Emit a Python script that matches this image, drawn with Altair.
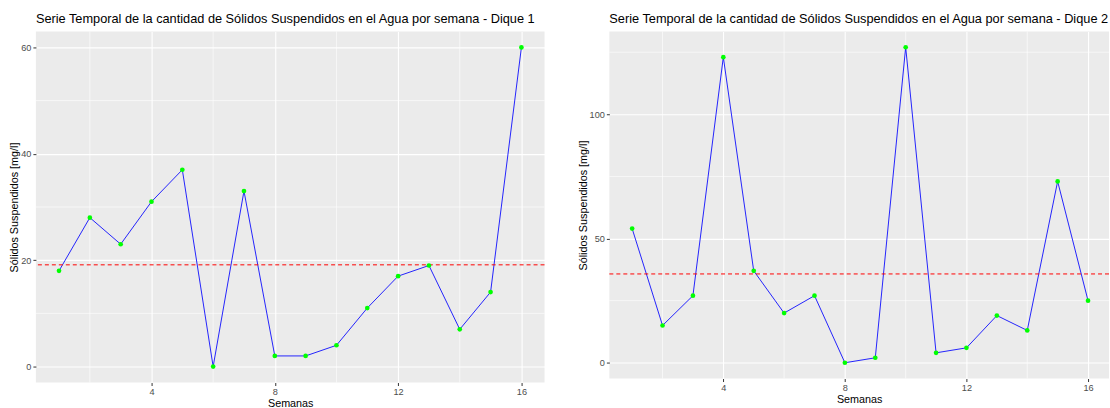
import altair as alt
import pandas as pd

semanas = list(range(1, 17))
dique1 = [18, 28, 23, 31, 37, 0, 33, 2, 2, 4, 11, 17, 19, 7, 14, 60]
dique2 = [54, 15, 27, 123, 37, 20, 27, 0, 2, 127, 4, 6, 19, 13, 73, 25]
titulo1 = "Serie Temporal de la cantidad de Sólidos Suspendidos en el Agua por semana - Dique 1"
titulo2 = "Serie Temporal de la cantidad de Sólidos Suspendidos en el Agua por semana - Dique 2"
x_major = [4, 8, 12, 16]
x_minor = [2, 6, 10, 14]
y1_major = [0, 20, 40, 60]
y1_minor = [10, 30, 50]
y2_major = [0, 50, 100]
y2_minor = [25, 75, 125]

FONT = "Liberation Sans"


def panel(vals, title, ymaj, ymin, xdom, ydom, w, h):
    df = pd.DataFrame({"Semana": semanas, "Valor": vals})
    mean = sum(vals) / len(vals)
    xscale = alt.Scale(domain=xdom, nice=False, zero=False)
    yscale = alt.Scale(domain=ydom, nice=False, zero=False)
    xaxis = alt.Axis(values=x_major, title="Semanas", grid=True, titlePadding=1)
    yaxis = alt.Axis(values=ymaj, title="Sólidos Suspendidos  [mg/l]", grid=True,
                     titlePadding=1)

    minor_x = alt.Chart(pd.DataFrame({"x": x_minor})).mark_rule(
        color="white", strokeWidth=0.6
    ).encode(x=alt.X("x:Q", scale=xscale, axis=xaxis))
    minor_y = alt.Chart(pd.DataFrame({"y": ymin})).mark_rule(
        color="white", strokeWidth=0.6
    ).encode(y=alt.Y("y:Q", scale=yscale, axis=yaxis))

    base = alt.Chart(df).encode(
        x=alt.X("Semana:Q", scale=xscale, axis=xaxis),
        y=alt.Y("Valor:Q", scale=yscale, axis=yaxis),
    )
    line = base.mark_line(color="#0000FF", strokeWidth=1, opacity=0.85)
    pts = base.mark_circle(color="#00FF00", size=22, opacity=1)
    mean_rule = alt.Chart(pd.DataFrame({"m": [mean]})).mark_rule(
        color="#FF0000", strokeDash=[4, 3], strokeWidth=1
    ).encode(y=alt.Y("m:Q", scale=yscale, axis=yaxis))

    return alt.layer(minor_x, minor_y, line, mean_rule, pts).properties(
        width=w, height=h,
        title=alt.TitleParams(title, anchor="start", frame="group", fontSize=12.8,
                              font=FONT, fontWeight="normal", color="black", offset=5),
    )


left = panel(dique1, titulo1, y1_major, y1_minor, [0.25, 16.75], [-3, 63], 510, 352)
right = panel(dique2, titulo2, y2_major, y2_minor, [0.25, 16.69], [-6.35, 133.35], 501, 348)

chart = alt.hconcat(left, right, spacing=31).properties(
    padding={"left": 8, "top": 12, "right": 0, "bottom": 0},
    background="white",
).configure_view(
    fill="#EBEBEB", stroke=None
).configure_axis(
    domain=False,
    gridColor="white",
    gridWidth=1.1,
    tickColor="#333333",
    tickSize=3,
    labelColor="#4D4D4D",
    labelFontSize=9.2,
    labelFont=FONT,
    labelPadding=2,
    titleFont=FONT,
    titleFontSize=10.8,
    titleFontWeight="normal",
    titleColor="black",
)

chart.save("out.html", embed_options={"renderer": "svg", "actions": False})
